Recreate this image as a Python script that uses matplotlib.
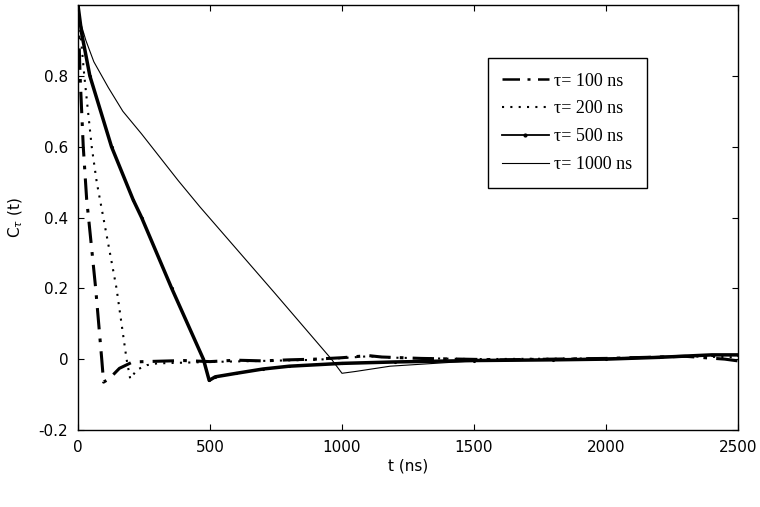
import matplotlib
matplotlib.use("Agg")
import matplotlib.pyplot as plt

# C_tau(t) curves (t in ns)
t_100 = [0, 8, 20, 33, 40, 67, 90, 97, 119, 157, 207, 300, 400, 500, 600, 700, 800,
         900, 1000, 1100, 1150, 1300, 1600, 2000, 2300, 2450, 2500]
c_100 = [1.0, 0.8, 0.6, 0.45, 0.4, 0.2, 0.0, -0.065, -0.055, -0.026, -0.008, -0.006,
         -0.004, -0.007, -0.003, -0.005, -0.002, 0.0, 0.004, 0.01, 0.006, 0.002,
         -0.002, 0.002, 0.008, 0.0, -0.005]

t_200 = [0, 24, 52, 71, 96, 146, 184, 198, 223, 261, 300, 400, 500, 700, 900, 1000,
         1100, 1200, 1500, 2000, 2300, 2500]
c_200 = [1.0, 0.8, 0.6, 0.5, 0.4, 0.2, 0.0, -0.056, -0.03, -0.017, -0.012, -0.01,
         -0.008, -0.005, -0.002, 0.003, 0.008, 0.004, 0.0, 0.002, 0.008, 0.005]

t_500 = [0, 14, 45, 127, 209, 241, 355, 475, 497, 520, 600, 700, 800, 1000, 1200,
         1500, 1800, 2000, 2200, 2400, 2500]
c_500 = [1.0, 0.92, 0.8, 0.6, 0.45, 0.4, 0.2, 0.0, -0.06, -0.05, -0.04, -0.028,
         -0.02, -0.012, -0.008, -0.004, -0.002, 0.0, 0.005, 0.012, 0.012]

t_1000 = [0, 8, 30, 60, 115, 170, 241, 380, 462, 746, 960, 1000, 1050, 1182, 1371,
          1500, 1800, 2000, 2300, 2500]
c_1000 = [1.0, 0.955, 0.9, 0.84, 0.767, 0.7, 0.636, 0.504, 0.43, 0.186, 0.0, -0.04,
          -0.035, -0.02, -0.011, -0.005, 0.0, 0.003, 0.01, 0.012]

labels = ["\u03c4= 100 ns", "\u03c4= 200 ns", "\u03c4= 500 ns", "\u03c4= 1000 ns"]

fig = plt.figure(figsize=(7.6, 5.07), dpi=100)
ax = fig.add_axes([0.1026, 0.152, 0.8684, 0.838])

ax.plot(t_100, c_100, color="black", lw=2.2, dashes=(7, 3, 1.2, 3), label=labels[0])
ax.plot(t_200, c_200, color="black", lw=1.5, dashes=(1, 3), label=labels[1])
ax.plot(t_500, c_500, color="black", lw=2.5, marker=".", markersize=2.5,
        label=labels[2])
ax.plot(t_1000, c_1000, color="black", lw=0.8, label=labels[3])

ax.set_xlim(0, 2500)
ax.set_ylim(-0.2, 1.0)
ax.set_xticks([0, 500, 1000, 1500, 2000, 2500])
ax.set_yticks([-0.2, 0, 0.2, 0.4, 0.6, 0.8])
ax.set_yticklabels(["-0.2", "0", "0.2", "0.4", "0.6", "0.8"])
ax.tick_params(direction="in", length=4, width=0.8, labelsize=11, pad=7,
               top=True, right=True)
for s in ax.spines.values():
    s.set_linewidth(1.0)

ax.set_xlabel("t (ns)", fontsize=11, labelpad=3)
ax.set_ylabel("C$_{\\tau}$ (t)", fontsize=11, labelpad=10)

leg = ax.legend(loc="upper right", bbox_to_anchor=(0.862, 0.875), borderaxespad=0,
                prop={"family": "Liberation Serif", "size": 13}, fancybox=False,
                edgecolor="black", framealpha=1, handlelength=2.6, labelspacing=0.6,
                handletextpad=0.3, borderpad=0.8)
leg.get_frame().set_linewidth(1.0)
leg.get_lines()[0].set_linewidth(1.8)
leg.get_lines()[2].set_linewidth(1.3)
leg.get_lines()[2].set_markersize(4)

fig.savefig("out.png", dpi=100)
